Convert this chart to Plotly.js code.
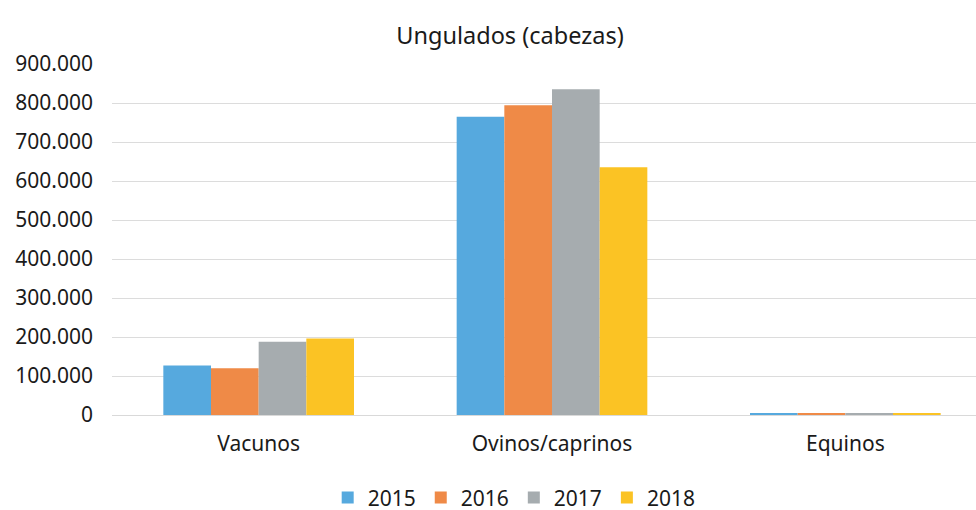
<!DOCTYPE html>
<html>
<head>
<meta charset="utf-8">
<script src="https://cdn.plot.ly/plotly-3.0.1.min.js"></script>
<style>
  body { margin: 0; background: #fff; overflow: hidden; }
  #chart { width: 993px; height: 510px; }
</style>
</head>
<body>
<div id="chart"></div>
<script>
// datos
var categorias = ['Vacunos', 'Ovinos/caprinos', 'Equinos'];
var anios = ['2015', '2016', '2017', '2018'];
var v2015 = [127000, 765000, 5000];
var v2016 = [120000, 794000, 5000];
var v2017 = [188000, 835000, 5000];
var v2018 = [196000, 635000, 5000];
var colores = ['#56A9DE', '#EF8A47', '#A6ACAF', '#FBC324'];

var series = [v2015, v2016, v2017, v2018];
var data = series.map(function (vals, i) {
  return {
    type: 'bar',
    name: anios[i],
    x: categorias,
    y: vals,
    marker: { color: colores[i] }
  };
});

// el area del grafico sigue un poco mas alla del borde derecho de la imagen
var layout = {
  width: 993,
  height: 510,
  margin: { l: 112, r: 1, t: 64, b: 94.5, autoexpand: false },
  paper_bgcolor: '#fff',
  plot_bgcolor: '#fff',
  separators: ',.',
  font: { family: 'Noto Sans, Open Sans, sans-serif', size: 21, color: '#1a1a1a' },
  title: {
    text: 'Ungulados (cabezas)',
    x: 0.5136, xanchor: 'center',
    y: 0.929, yanchor: 'middle',
    font: { size: 23.5, color: '#1a1a1a' }
  },
  barmode: 'group',
  bargap: 0.35,
  bargroupgap: 0,
  xaxis: {
    showgrid: false,
    showline: true,
    linecolor: '#d9d9d9',
    linewidth: 1,
    ticks: '',
    ticklabelstandoff: 10,
    tickfont: { size: 21 }
  },
  yaxis: {
    range: [0, 900000],
    dtick: 100000,
    tickformat: ',d',
    gridcolor: '#dcdcdc',
    gridwidth: 1,
    zeroline: false,
    showline: false,
    ticks: '',
    ticklabelstandoff: 18,
    tickfont: { size: 21 }
  },
  showlegend: true,
  legend: {
    orientation: 'h',
    xref: 'container',
    x: 0.33, xanchor: 'left',
    yref: 'container',
    y: 0.024, yanchor: 'middle',
    font: { size: 21 },
    itemwidth: 30,
    traceorder: 'normal'
  }
};

Plotly.newPlot('chart', data, layout, { displayModeBar: false, staticPlot: true });
</script>
</body>
</html>
